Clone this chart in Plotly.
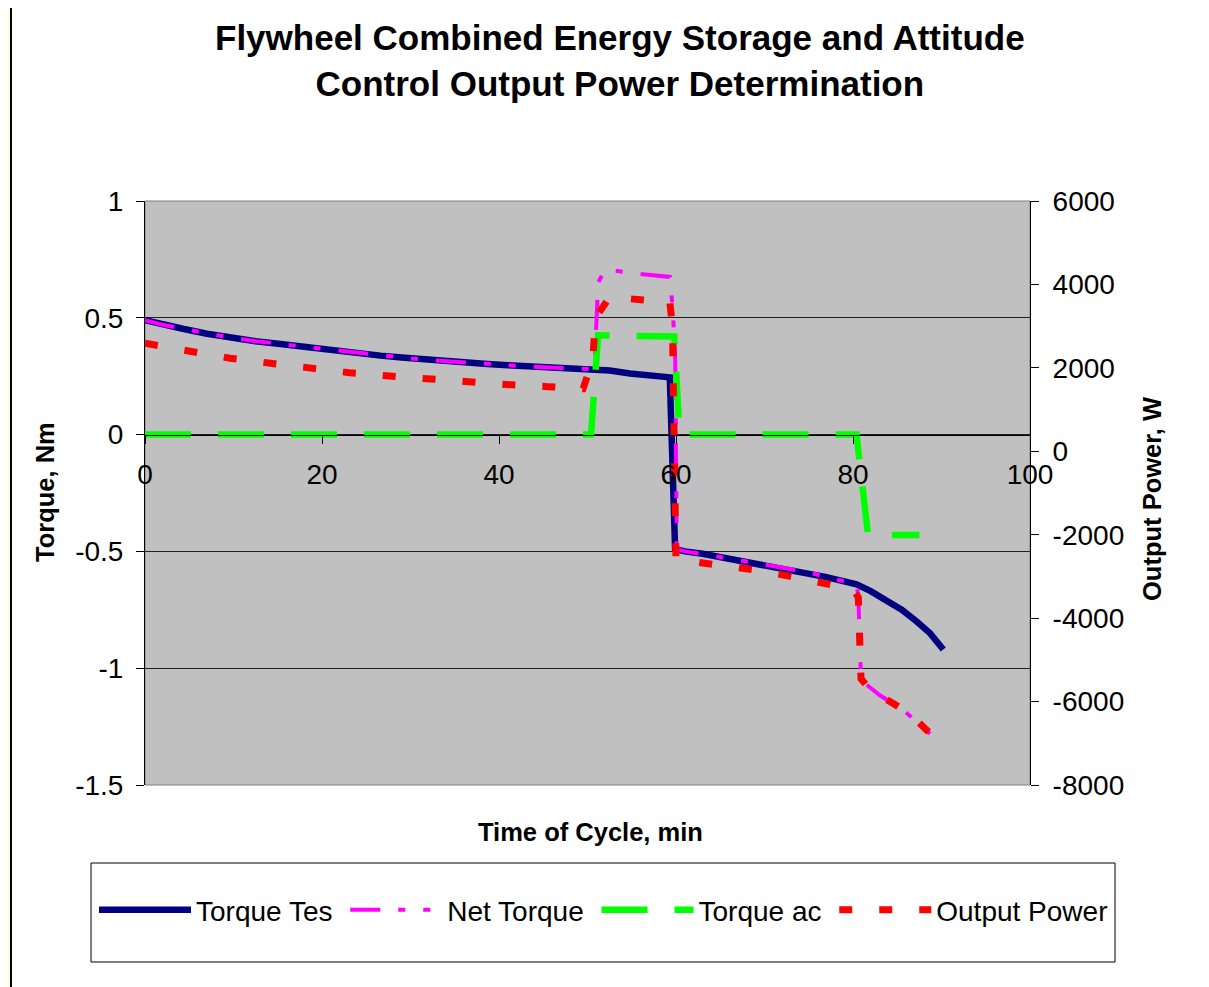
import plotly.graph_objects as go

# ---------------- data ----------------
time_tes = [0, 2, 4.4, 7, 9.6, 12.5, 15.3, 17.5, 20.1, 23, 26.6, 29, 31.8, 35, 38.7, 41, 43.9, 47,
            50.4, 52.5, 54.8, 57, 58.8, 59.3, 59.9, 61, 63, 65, 68, 71.8, 75, 77, 79, 80.4,
            82, 83.8, 85.5, 87.2, 88.7, 90.2]
torque_tes = [0.49, 0.47, 0.452, 0.432, 0.416, 0.40, 0.388, 0.377, 0.366, 0.352, 0.338, 0.33, 0.32,
              0.311, 0.302, 0.297, 0.29, 0.285, 0.28, 0.274, 0.262, 0.255, 0.248, 0.245, -0.49,
              -0.50, -0.51, -0.524, -0.543, -0.567, -0.59, -0.61, -0.628, -0.641,
              -0.67, -0.709, -0.75, -0.80, -0.85, -0.92]

time_net = [0, 2, 4.4, 7, 9.6, 12.5, 15.3, 17.5, 20.1, 23, 26.6, 29, 31.8, 35, 38.7, 41, 43.9, 47,
            50.4, 50.8, 51.2, 52.0, 55.4, 59.3, 59.6, 59.9, 60.1, 61, 63, 65, 68, 71.8, 75, 77, 79,
            80.4, 80.6, 80.9, 81.5, 83.0, 85.7, 88.5, 90.2]
net_torque = [0.49, 0.47, 0.452, 0.432, 0.416, 0.40, 0.388, 0.377, 0.366, 0.352, 0.338, 0.33, 0.32,
              0.311, 0.302, 0.297, 0.29, 0.285, 0.28, 0.30, 0.65, 0.708, 0.69, 0.675, 0.55, 0.36,
              -0.49, -0.50, -0.51, -0.524, -0.543, -0.567, -0.59, -0.61, -0.628,
              -0.641, -0.69, -1.04, -1.07, -1.115, -1.18, -1.272, -1.33]

time_ac = [0, 50.4, 51.2, 59.8, 60.4, 80.4, 81.7, 87.5]
torque_ac = [0, 0, 0.425, 0.42, 0, 0, -0.43, -0.43]

time_pw = [0, 5.2, 9.6, 14.2, 18.5, 23.1, 27.6, 32.0, 36.4, 40.9, 45.5, 49.5, 50.6, 50.9, 52.5,
           55, 57.6, 59.3, 59.6, 60.0, 60.5, 65.2, 69.5, 74.0, 78.5, 80.3, 80.6, 80.9, 81.5,
           82.6, 85.7, 86.4, 88.3, 90.0]
output_power = [2590, 2390, 2230, 2110, 1990, 1885, 1805, 1725, 1660, 1600, 1550, 1500, 2190, 3195,
                3700, 3650, 3590, 3570, 3000, -2600, -2606, -2726, -2862, -3045, -3245, -3400,
                -3500, -5450, -5603, -5802, -6202, -6282, -6681, -6985]

series_names = ["Torque Tes", "Net Torque", "Torque ac", "Output Power"]

x_ticks = [0, 20, 40, 60, 80, 100]
x_ticklabels = ["0", "20", "40", "60", "80", "100"]
y_ticks = [1, 0.5, 0, -0.5, -1, -1.5]
y_ticklabels = ["1", "0.5", "0", "-0.5", "-1", "-1.5"]
y2_ticks = [6000, 4000, 2000, 0, -2000, -4000, -6000, -8000]
y2_ticklabels = ["6000", "4000", "2000", "0", "-2000", "-4000", "-6000", "-8000"]

title_text = "Flywheel Combined Energy Storage and Attitude<br>Control Output Power Determination"

# ---------------- layout helpers (page pixel -> paper) ----------------
OFF = 8                      # page body margin
W, H = 1209 - OFF, 987 - OFF
L, R, T, B = 145, 1030, 201, 785   # plot area in page pixels


def px(xp):
    return (xp - L) / (R - L)


def py(yp):
    return (B - yp) / (B - T)


FONT = "Liberation Sans, Arial, sans-serif"
NB = "\u00a0"

fig = go.Figure()
fig.add_trace(go.Scatter(x=time_tes, y=torque_tes, name=series_names[0] + NB, mode="lines",
                         line=dict(color="#000080", width=6.5)))
fig.add_trace(go.Scatter(x=time_net, y=net_torque, name=series_names[1] + NB, mode="lines",
                         line=dict(color="#FF00FF", width=4, dash="30px,18px,7px,18px,7px,18px")))
fig.add_trace(go.Scatter(x=time_ac, y=torque_ac, name=series_names[2] + NB, mode="lines",
                         line=dict(color="#00FF00", width=6.5, dash="46px,27px")))
fig.add_trace(go.Scatter(x=time_pw, y=output_power, name=series_names[3], mode="lines", yaxis="y2",
                         line=dict(color="#FF0000", width=7, dash="13px,27px")))

shapes = [
    dict(type="rect", xref="paper", yref="paper", x0=px(11), x1=px(1205), y0=py(1000), y1=py(6),
         fillcolor="white", line=dict(color="black", width=2), layer="below"),
    dict(type="rect", xref="paper", yref="paper", x0=0, x1=1, y0=0, y1=1,
         fillcolor="#C0C0C0", line=dict(color="#808080", width=1), layer="below"),
    dict(type="rect", xref="paper", yref="paper", x0=px(91), x1=px(1115), y0=py(962), y1=py(863),
         fillcolor="white", line=dict(color="black", width=1), layer="below"),
]

annotations = [
    dict(text=title_text, xref="paper", yref="paper", x=px(620), y=py(60.5), xanchor="center",
         yanchor="middle", showarrow=False, font=dict(family=FONT, size=35, color="black", weight="bold")),
    dict(text="Time of Cycle, min", xref="paper", yref="paper", x=px(590), y=py(832), xanchor="center",
         yanchor="middle", showarrow=False, font=dict(family=FONT, size=25.5, color="black", weight="bold")),
    dict(text="Torque, Nm", xref="paper", yref="paper", x=px(45), y=py(492), xanchor="center",
         yanchor="middle", textangle=-90, showarrow=False,
         font=dict(family=FONT, size=25.5, color="black", weight="bold")),
    dict(text="Output Power, W", xref="paper", yref="paper", x=px(1152), y=py(499), xanchor="center",
         yanchor="middle", textangle=-90, showarrow=False,
         font=dict(family=FONT, size=25.5, color="black", weight="bold")),
]

fig.update_layout(
    width=W, height=H,
    margin=dict(l=L - OFF, r=W - (R - OFF), t=T - OFF, b=H - (B - OFF), autoexpand=False),
    paper_bgcolor="#FFFFCC",
    plot_bgcolor="rgba(0,0,0,0)",
    font=dict(family=FONT, size=28, color="black"),
    shapes=shapes,
    annotations=annotations,
    showlegend=True,
    legend=dict(orientation="h", x=px(94), y=py(910), xanchor="left", yanchor="middle",
                bgcolor="rgba(0,0,0,0)", borderwidth=0, itemwidth=92,
                font=dict(family=FONT, size=28, color="black"), traceorder="normal"),
    xaxis=dict(range=[0, 100], tickvals=x_ticks, ticktext=x_ticklabels, anchor="free", position=0.6,
               showline=True, linecolor="black", linewidth=1, ticks="outside", ticklen=8,
               tickcolor="black", showgrid=False, zeroline=False, ticklabelstandoff=7,
               tickfont=dict(family=FONT, size=28, color="black")),
    yaxis=dict(range=[-1.5, 1], tickvals=y_ticks, ticktext=y_ticklabels, showline=True,
               linecolor="black", linewidth=1, ticks="outside", ticklen=8, tickcolor="black",
               showgrid=True, gridcolor="#202020", gridwidth=1, zeroline=False, ticklabelstandoff=7,
               tickfont=dict(family=FONT, size=28, color="black")),
    yaxis2=dict(range=[-8000, 6000], tickvals=y2_ticks, ticktext=y2_ticklabels, overlaying="y",
                side="right", showline=True, linecolor="black", linewidth=1, ticks="outside",
                ticklen=8, tickcolor="black", showgrid=False, zeroline=False, ticklabelstandoff=8,
                tickfont=dict(family=FONT, size=28, color="black")),
)

fig.write_html("out.html")
